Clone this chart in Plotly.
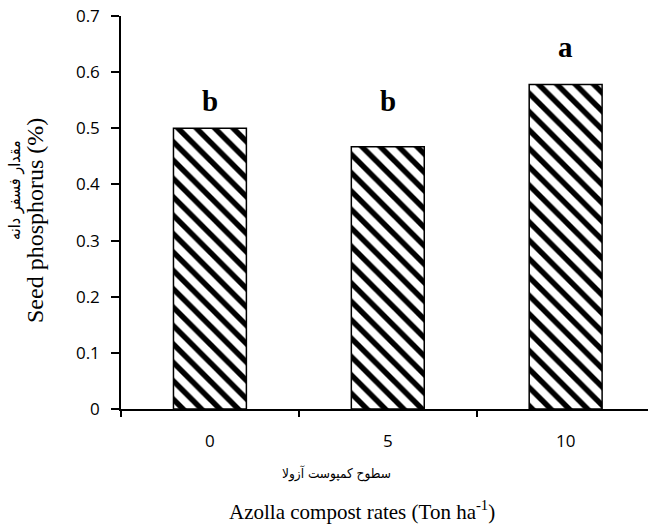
import plotly.graph_objects as go

categories = ["0", "5", "10"]
phosphorus = [0.50, 0.467, 0.578]
letters = ["b", "b", "a"]
letter_y = [0.517, 0.517, 0.613]
y_ticks = [0, 0.1, 0.2, 0.3, 0.4, 0.5, 0.6, 0.7]
y_tick_text = ["0", "0.1", "0.2", "0.3", "0.4", "0.5", "0.6", "0.7"]

x_title_fa = "سطوح کمپوست آزولا"
x_title_en = "Azolla compost rates (Ton ha<sup>-1</sup>)"
y_title_fa = "مقدار فسفر دانه"
y_title_en = "Seed phosphorus (%)"

serif = "Liberation Serif, Times New Roman, serif"
sans = "Open Sans, Noto Sans, sans-serif"
arabic = "DejaVu Sans Condensed, DejaVu Sans, sans-serif"

W, H = 648, 529
L, R, T, B = 121, 0, 16, 120
plot_w = W - L - R
plot_h = H - T - B


def px_x(px):
    return (px - L) / plot_w


def px_y(py):
    return (H - B - py) / plot_h


fig = go.Figure()
fig.add_trace(go.Bar(
    x=list(range(len(categories))),
    y=phosphorus,
    width=0.41,
    marker=dict(
        color="white",
        line=dict(color="black", width=1.5),
        pattern=dict(shape="\\", fgcolor="black", bgcolor="white", fgopacity=1,
                     size=13, solidity=0.42, fillmode="replace"),
    ),
    showlegend=False,
    hoverinfo="skip",
))

# dummy invisible trace for the tick-mark axis
fig.add_trace(go.Scatter(x=[0], y=[0], xaxis="x2", yaxis="y", mode="markers",
                         marker=dict(opacity=0), showlegend=False, hoverinfo="skip"))

for i, (lab, ly) in enumerate(zip(letters, letter_y)):
    fig.add_annotation(x=i, y=ly, xref="x", yref="y", text="<b>" + lab + "</b>",
                       showarrow=False, yanchor="bottom", xanchor="center",
                       font=dict(family=serif, size=29, color="black"))

fig.add_annotation(x=px_x(336), y=px_y(473), xref="paper", yref="paper",
                   xanchor="center", yanchor="middle",
                   text=x_title_fa, showarrow=False, font=dict(family=arabic, size=13.5, color="black"))
fig.add_annotation(x=px_x(362), y=px_y(510), xref="paper", yref="paper",
                   xanchor="center", yanchor="middle",
                   text=x_title_en, showarrow=False, font=dict(family=serif, size=21, color="black"))
fig.add_annotation(x=px_x(15), y=px_y(190), xref="paper", yref="paper",
                   xanchor="center", yanchor="middle",
                   text=y_title_fa, textangle=-90, showarrow=False,
                   font=dict(family=arabic, size=16, color="black"))
fig.add_annotation(x=px_x(35), y=px_y(221), xref="paper", yref="paper",
                   xanchor="center", yanchor="middle",
                   text=y_title_en, textangle=-90, showarrow=False,
                   font=dict(family=serif, size=24, color="black"))

x_range = [-0.5, 2.463]

fig.update_layout(
    width=W, height=H,
    margin=dict(l=L, r=R, t=T, b=B, autoexpand=False),
    paper_bgcolor="white", plot_bgcolor="white",
    xaxis=dict(
        range=x_range,
        tickmode="array",
        tickvals=list(range(len(categories))),
        ticktext=categories,
        ticks="",
        showline=True, linecolor="black", linewidth=1.5,
        showgrid=False, zeroline=False, automargin=False,
        tickfont=dict(family=sans, size=17, color="black"),
        ticklabelstandoff=16,
    ),
    xaxis2=dict(
        range=x_range, overlaying="x",
        tickmode="array", tickvals=[-0.5, 0.5, 1.5],
        ticks="outside", ticklen=7, tickwidth=1.5, tickcolor="black",
        showticklabels=False, showgrid=False, zeroline=False, showline=False,
        side="bottom", anchor="y", automargin=False,
    ),
    yaxis=dict(
        range=[0, 0.7],
        tickmode="array", tickvals=y_ticks, ticktext=y_tick_text,
        ticks="outside", ticklen=8, tickwidth=1.5, tickcolor="black",
        showline=True, linecolor="black", linewidth=1.5,
        showgrid=False, zeroline=False, automargin=False,
        tickfont=dict(family=sans, size=17, color="black"),
        ticklabelstandoff=8,
    ),
)

fig.write_html("out.html", config={"displayModeBar": False},
               post_script="document.body.style.margin='0px';")
